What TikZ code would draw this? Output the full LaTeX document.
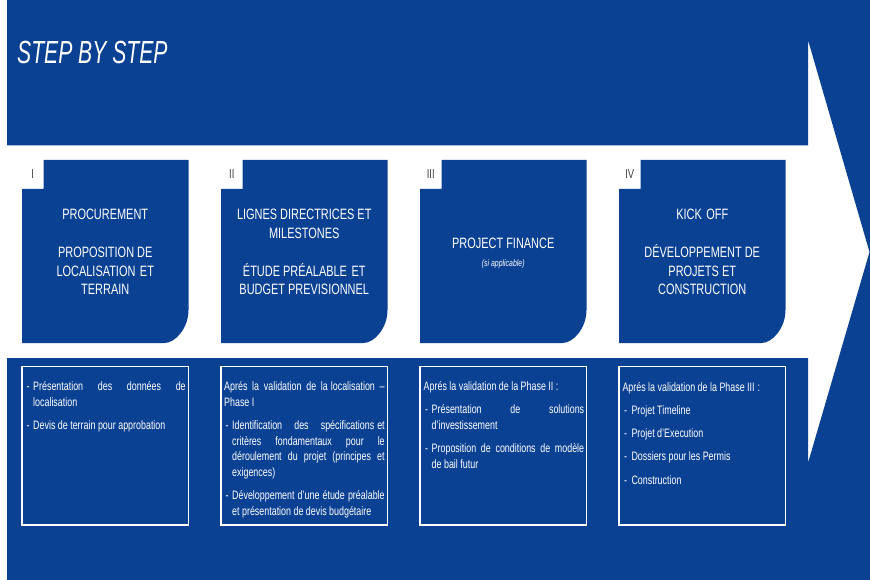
\documentclass[tikz,border=0pt]{standalone}
\usepackage{fontspec}
\setmainfont{Liberation Sans}[FakeStretch=0.73]
\newfontfamily\titlefont{Liberation Sans}[FakeStretch=0.66]
\definecolor{navy}{RGB}{11,65,146}
\definecolor{numgray}{RGB}{64,64,64}
% line builders
\newcommand\Cl[1]{\hbox to \hsize{\hfil#1\hfil}}
\newcommand\Jl[1]{\hbox to \hsize{#1}}
\newcommand\Nl[1]{\hbox to \hsize{#1\hfil}}
\newcommand\Ij[1]{\hbox to \hsize{\hbox to 8pt{\hskip1.5pt-\hfil}#1}}
\newcommand\In[1]{\hbox to \hsize{\hbox to 8pt{\hskip1.5pt-\hfil}#1\hfil}}
\newcommand\Kj[1]{\hbox to \hsize{\hskip8pt#1}}
\newcommand\Kn[1]{\hbox to \hsize{\hskip8pt#1\hfil}}
\newcommand\Gap{\vskip7.6pt}
\begin{document}
\begin{tikzpicture}[x=1pt,y=-1pt,
  hdrtext/.style={text=white, inner sep=0pt, anchor=base, font=\fontsize{15}{18.7}\selectfont},
  bodytext/.style={text=white, inner sep=0pt, anchor=base west, font=\fontsize{12.2}{15.7}\selectfont},
  numtext/.style={text=numgray, inner sep=0pt, font=\fontsize{13}{15}\selectfont},
  listbox/.style={draw=white, line width=1.1pt},
  bluefill/.style={fill=navy}]
\useasboundingbox (0,0) rectangle (870,580);
\fill[white] (0,0) rectangle (870,580);
% big blue background: banner, lower band and arrow part
\fill[bluefill] (7,0) -- (870,0) -- (870,580) -- (7,580) -- (7,358) -- (808,358) -- (808,463)
  -- (869.5,252) -- (808,40) -- (808,145.5) -- (7,145.5) -- cycle;
\node[anchor=base west, inner sep=0pt, text=white, font=\titlefont\itshape\fontsize{32}{36}\selectfont] (title) at (17,63.3) {STEP BY STEP};
% header boxes, numerals and list frames
\foreach \L/\n in {22/I,221/II,420/III,619/IV}{
  \fill[bluefill] ({\L+21.5},160) -- ({\L+166.5},160) -- ({\L+166.5},310)
    .. controls ({\L+166.5},328.2) and ({\L+153.2},343) .. ({\L+142.5},343)
    -- (\L,343) -- (\L,189) -- ({\L+21.5},189) -- cycle;
  \node[numtext] (num\n) at ({\L+10.75},174.5) {\n};
  \draw[listbox] (\L,366.3) rectangle ({\L+166.7},525);
}
% header texts
\node[hdrtext] (h1) at (105.25,220) {\vtop{\hsize=160pt
  \Cl{PROCUREMENT}\vskip18.7pt
  \Cl{PROPOSITION DE}
  \Cl{LOCALISATION\hskip4.5pt ET}
  \Cl{TERRAIN}}};
\node[hdrtext] (h2) at (304.25,220) {\vtop{\hsize=160pt
  \Cl{LIGNES DIRECTRICES ET}
  \Cl{MILESTONES}\vskip18.7pt
  \Cl{ÉTUDE PRÉALABLE\hskip4.5pt ET}
  \Cl{BUDGET PREVISIONNEL}}};
\node[hdrtext] (h3) at (503.25,248) {\vtop{\hsize=160pt
  \Cl{PROJECT FINANCE}
  \Cl{\fontsize{9.5}{18.7}\selectfont\itshape (si applicable)}}};
\node[hdrtext] (h4) at (702.25,220) {\vtop{\hsize=160pt
  \Cl{KICK\hskip4.5pt OFF}\vskip18.7pt
  \Cl{DÉVELOPPEMENT DE}
  \Cl{PROJETS ET}
  \Cl{CONSTRUCTION}}};
% list texts
\node[bodytext] (t1) at (25,390.3) {\vtop{\hsize=160.5pt
  \Ij{Présentation des données de}
  \Kn{localisation}\Gap
  \In{Devis de terrain pour approbation}}};
\node[bodytext] (t2) at (224,390.5) {\vtop{\hsize=160.5pt
  \Jl{Aprés la validation de la\hskip3pt localisation –}
  \Nl{Phase I}\Gap
  \Ij{Identification des spécifications\hskip3pt et}
  \Kj{critères fondamentaux pour le}
  \Kj{déroulement du projet (principes et}
  \Kn{exigences)}\Gap
  \Ij{Développement d’une étude préalable}
  \Kn{et présentation de devis budgétaire}}};
\node[bodytext] (t3) at (423.5,390.3) {\vtop{\hsize=160.5pt
  \Nl{Aprés la validation de la Phase II :}\Gap
  \Ij{Présentation de solutions}
  \Kn{d’investissement}\Gap
  \Ij{Proposition de conditions de modèle}
  \Kn{de bail futur}}};
\node[bodytext] (t4) at (622.3,391) {\vtop{\hsize=160.5pt
  \Nl{Aprés la validation de la Phase III\hskip3pt :}\Gap
  \In{\hskip1pt Projet Timeline}\Gap
  \In{\hskip1pt Projet d’Execution}\Gap
  \In{\hskip1pt Dossiers pour les Permis}\Gap
  \In{\hskip1pt Construction}}};
\end{tikzpicture}
\end{document}
